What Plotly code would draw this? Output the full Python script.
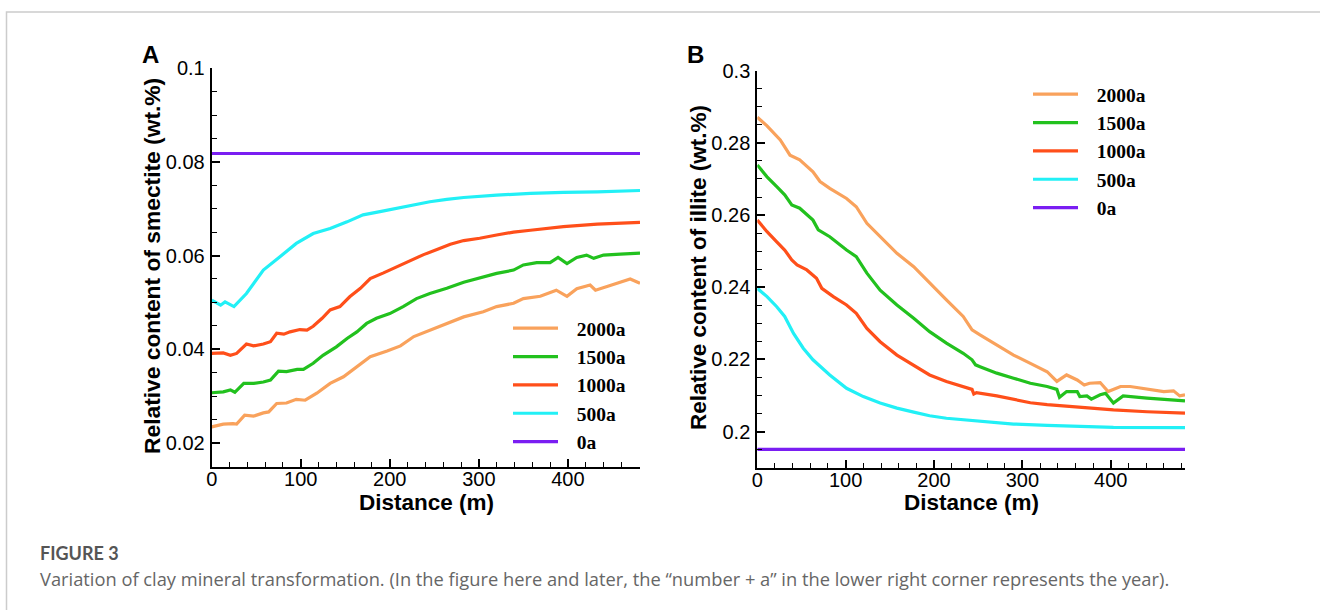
import plotly.graph_objects as go

W, H = 1320, 610

# ---------------- data ----------------
series_names = ["2000a", "1500a", "1000a", "500a", "0a"]
series_colors = ["#F9A25C", "#22C11E", "#FF4F1A", "#22F0F6", "#7A1EF2"]

# Panel A: smectite
a_x_2000 = [0, 13, 24, 28, 37, 47, 58, 64, 73, 84, 95, 105, 118, 133, 148, 163, 178, 197, 212, 227, 245, 264, 283, 305, 320, 339, 350, 369, 387, 399, 410, 425, 431, 444, 463, 470, 481]
a_y_2000 = [0.0234, 0.0240, 0.0241, 0.0240, 0.0259, 0.0257, 0.0264, 0.0266, 0.0284, 0.0285, 0.0293, 0.0291, 0.0306, 0.0327, 0.0341, 0.0362, 0.0384, 0.0396, 0.0407, 0.0427, 0.0441, 0.0455, 0.0469, 0.0480, 0.0491, 0.0498, 0.0508, 0.0513, 0.0526, 0.0513, 0.0529, 0.0537, 0.0526, 0.0534, 0.0546, 0.0550, 0.0541]

a_x_1500 = [0, 13, 21, 26, 36, 47, 58, 66, 75, 84, 96, 103, 114, 125, 140, 152, 163, 174, 185, 200, 215, 230, 245, 264, 283, 301, 320, 339, 350, 365, 380, 389, 399, 410, 421, 429, 440, 459, 481]
a_y_1500 = [0.0307, 0.0309, 0.0313, 0.0308, 0.0327, 0.0327, 0.0330, 0.0334, 0.0353, 0.0352, 0.0357, 0.0357, 0.0370, 0.0387, 0.0405, 0.0423, 0.0437, 0.0455, 0.0466, 0.0476, 0.0491, 0.0508, 0.0519, 0.0530, 0.0543, 0.0553, 0.0562, 0.0569, 0.0580, 0.0585, 0.0585, 0.0596, 0.0583, 0.0596, 0.0601, 0.0594, 0.0601, 0.0603, 0.0605]

a_x_1000 = [0, 13, 21, 28, 39, 47, 58, 66, 73, 81, 88, 99, 107, 114, 124, 133, 144, 155, 167, 178, 193, 208, 223, 238, 253, 268, 283, 301, 320, 339, 358, 376, 395, 433, 451, 481]
a_y_1000 = [0.0391, 0.0392, 0.0387, 0.0391, 0.0411, 0.0407, 0.0411, 0.0416, 0.0434, 0.0432, 0.0437, 0.0442, 0.0441, 0.0449, 0.0466, 0.0484, 0.0491, 0.0512, 0.0530, 0.0551, 0.0563, 0.0576, 0.0590, 0.0602, 0.0613, 0.0624, 0.0632, 0.0637, 0.0644, 0.0650, 0.0654, 0.0658, 0.0662, 0.0667, 0.0669, 0.0671]

a_x_500 = [0, 10, 15, 25, 39, 58, 77, 95, 114, 133, 152, 170, 189, 208, 227, 245, 264, 283, 320, 358, 395, 433, 481]
a_y_500 = [0.0505, 0.0494, 0.0501, 0.0491, 0.0519, 0.0569, 0.0598, 0.0626, 0.0647, 0.0658, 0.0672, 0.0687, 0.0694, 0.0701, 0.0708, 0.0715, 0.0720, 0.0724, 0.0729, 0.0733, 0.0735, 0.0736, 0.0739]

a_x_0 = [0, 481]
a_y_0 = [0.0818, 0.0818]

# Panel B: illite
b_x_2000 = [0, 11, 26, 37, 48, 63, 71, 82, 101, 112, 124, 139, 158, 177, 195, 214, 233, 243, 252, 271, 290, 309, 328, 339, 350, 362, 370, 376, 388, 397, 411, 422, 441, 460, 471, 478, 484]
b_y_2000 = [0.2871, 0.2847, 0.2808, 0.2766, 0.2753, 0.2720, 0.2693, 0.2674, 0.2646, 0.2623, 0.2577, 0.2540, 0.2494, 0.2457, 0.2411, 0.2365, 0.2319, 0.2282, 0.2268, 0.2240, 0.2212, 0.2189, 0.2166, 0.2139, 0.2157, 0.2143, 0.2129, 0.2134, 0.2136, 0.2111, 0.2125, 0.2125, 0.2117, 0.2111, 0.2113, 0.2099, 0.2102]

b_x_1500 = [0, 11, 22, 31, 39, 48, 63, 69, 82, 101, 112, 124, 139, 158, 177, 195, 214, 233, 243, 247, 252, 271, 290, 309, 328, 339, 342, 350, 362, 365, 373, 378, 388, 394, 403, 414, 441, 484]
b_y_1500 = [0.2739, 0.2706, 0.2679, 0.2656, 0.2628, 0.2619, 0.2586, 0.2559, 0.2540, 0.2503, 0.2485, 0.2439, 0.2392, 0.2351, 0.2314, 0.2277, 0.2245, 0.2217, 0.2199, 0.2185, 0.2180, 0.2162, 0.2148, 0.2134, 0.2125, 0.2117, 0.2095, 0.2111, 0.2111, 0.2097, 0.2099, 0.2090, 0.2102, 0.2106, 0.2079, 0.2099, 0.2093, 0.2085]

b_x_1000 = [0, 11, 22, 31, 39, 45, 56, 67, 73, 86, 101, 112, 124, 139, 158, 177, 195, 214, 233, 243, 245, 248, 271, 290, 309, 328, 365, 403, 441, 484]
b_y_1000 = [0.2586, 0.2554, 0.2526, 0.2503, 0.2476, 0.2462, 0.2448, 0.2425, 0.2397, 0.2374, 0.2351, 0.2328, 0.2286, 0.2249, 0.2212, 0.2185, 0.2157, 0.2139, 0.2125, 0.2117, 0.2104, 0.2108, 0.2099, 0.2090, 0.2080, 0.2075, 0.2067, 0.2060, 0.2055, 0.2051]

b_x_500 = [0, 11, 22, 31, 41, 52, 63, 82, 101, 120, 139, 158, 177, 195, 214, 252, 290, 328, 365, 403, 484]
b_y_500 = [0.2397, 0.2374, 0.2346, 0.2319, 0.2272, 0.2231, 0.2199, 0.2157, 0.2120, 0.2097, 0.2079, 0.2065, 0.2054, 0.2044, 0.2037, 0.2028, 0.2021, 0.2017, 0.2014, 0.2012, 0.2011]

b_x_0 = [0, 484]
b_y_0 = [0.1951, 0.1951]

a_series = [(a_x_2000, a_y_2000), (a_x_1500, a_y_1500), (a_x_1000, a_y_1000), (a_x_500, a_y_500), (a_x_0, a_y_0)]
b_series = [(b_x_2000, b_y_2000), (b_x_1500, b_y_1500), (b_x_1000, b_y_1000), (b_x_500, b_y_500), (b_x_0, b_y_0)]

x_tickvals = [0, 100, 200, 300, 400]
a_tickvals = [0.02, 0.04, 0.06, 0.08, 0.1]
a_ticktext = ["0.02", "0.04", "0.06", "0.08", "0.1"]
b_tickvals = [0.2, 0.22, 0.24, 0.26, 0.28, 0.3]
b_ticktext = ["0.2", "0.22", "0.24", "0.26", "0.28", "0.3"]

# ---------------- figure ----------------
def px(x):
    return x / W

def py(y):
    return 1 - y / H

LEG_PAD = "\u00a0\u00a0\u2009"

fig = go.Figure()

for (xs, ys), name, col in zip(a_series, series_names, series_colors):
    fig.add_trace(go.Scatter(x=xs, y=ys, mode="lines", name=LEG_PAD + "<b>" + name + "</b>", xaxis="x", yaxis="y",
                             line=dict(color=col, width=3.2), legend="legend"))
for (xs, ys), name, col in zip(b_series, series_names, series_colors):
    fig.add_trace(go.Scatter(x=xs, y=ys, mode="lines", name=LEG_PAD + "<b>" + name + "</b>", xaxis="x2", yaxis="y2",
                             line=dict(color=col, width=3.2), legend="legend2"))

tickfont = dict(family="Liberation Sans, Arial", size=20, color="black")

def xax(domain, rng, anchor):
    return dict(domain=domain, range=rng, anchor=anchor, tickvals=x_tickvals, automargin=False,
                ticks="inside", ticklen=8, tickwidth=2, tickcolor="black",
                showline=True, linewidth=2, linecolor="black", showgrid=False, zeroline=False,
                tickfont=tickfont, ticklabelstandoff=-7,
                minor=dict(ticks="inside", dtick=20, tick0=0, ticklen=5, tickwidth=1.2,
                           tickcolor="black", showgrid=False))

def yax(domain, rng, anchor, tv, tt):
    return dict(domain=domain, range=rng, anchor=anchor, tickvals=tv, ticktext=tt, automargin=False,
                ticks="inside", ticklen=8, tickwidth=2, tickcolor="black",
                showline=True, linewidth=2, linecolor="black", showgrid=False, zeroline=False,
                tickfont=tickfont, ticklabelstandoff=1,
                minor=dict(ticks="inside", dtick=0.005, tick0=0, ticklen=5, tickwidth=1.2,
                           tickcolor="black", showgrid=False))

legfont = dict(family="Liberation Serif, Times New Roman", size=19.5, color="black")

fig.update_layout(
    width=W, height=H,
    margin=dict(l=0, r=0, t=0, b=0, autoexpand=False),
    paper_bgcolor="white", plot_bgcolor="white",
    xaxis=xax([px(211.7), px(640)], [0, 481], "y"),
    yaxis=yax([py(466.7), py(68.3)], [0.0149, 0.1], "x", a_tickvals, a_ticktext),
    xaxis2=xax([px(757.3), px(1185)], [0, 484], "y2"),
    yaxis2=yax([py(467.7), py(70.7)], [0.19, 0.3], "x2", b_tickvals, b_ticktext),
    legend=dict(x=px(508), y=py(309), xanchor="left", yanchor="top", bgcolor="rgba(0,0,0,0)",
                font=legfont, itemwidth=45, traceorder="normal"),
    legend2=dict(x=px(1028), y=py(75), xanchor="left", yanchor="top", bgcolor="rgba(0,0,0,0)",
                 font=legfont, itemwidth=45, traceorder="normal"),
    showlegend=True,
)

annots = [
    dict(text="<b>A</b>", x=px(150), y=py(55), font=dict(family="Liberation Sans, Arial", size=24, color="black")),
    dict(text="<b>B</b>", x=px(695), y=py(55), font=dict(family="Liberation Sans, Arial", size=24, color="black")),
    dict(text="<b>Distance (m)</b>", x=px(426), y=py(502), font=dict(family="Liberation Sans, Arial", size=22.5, color="black")),
    dict(text="<b>Distance (m)</b>", x=px(971), y=py(502), font=dict(family="Liberation Sans, Arial", size=22.5, color="black")),
    dict(text="<b>Relative content of smectite (wt.%)</b>", x=px(152), y=py(266), textangle=-90,
         font=dict(family="Liberation Sans, Arial", size=22.8, color="black")),
    dict(text="<b>Relative content of illite (wt.%)</b>", x=px(698), y=py(268), textangle=-90,
         font=dict(family="Liberation Sans, Arial", size=22.5, color="black")),
]
for a in annots:
    a.update(xref="paper", yref="paper", showarrow=False, xanchor="center", yanchor="middle")
    fig.add_annotation(**a)

fig.add_annotation(text="<b>FIGURE 3</b>", x=px(38), y=py(553), xref="paper", yref="paper",
                   showarrow=False, xanchor="left", yanchor="middle",
                   font=dict(family="Lato, Open Sans", size=18, color="#555555"))
fig.add_annotation(text="Variation of clay mineral transformation. (In the figure here and later, the \u201cnumber + a\u201d in the lower right corner represents the year).",
                   x=px(38), y=py(578), xref="paper", yref="paper",
                   showarrow=False, xanchor="left", yanchor="middle",
                   font=dict(family="Open Sans, Lato", size=18.3, color="#666666"))

# outer card border
fig.add_shape(type="rect", xref="paper", yref="paper", x0=px(6.5), x1=1.05, y0=-0.1, y1=py(12),
              line=dict(color="#CCCCCC", width=1.5), fillcolor="rgba(0,0,0,0)", layer="below")

fig.write_html("out.html")
